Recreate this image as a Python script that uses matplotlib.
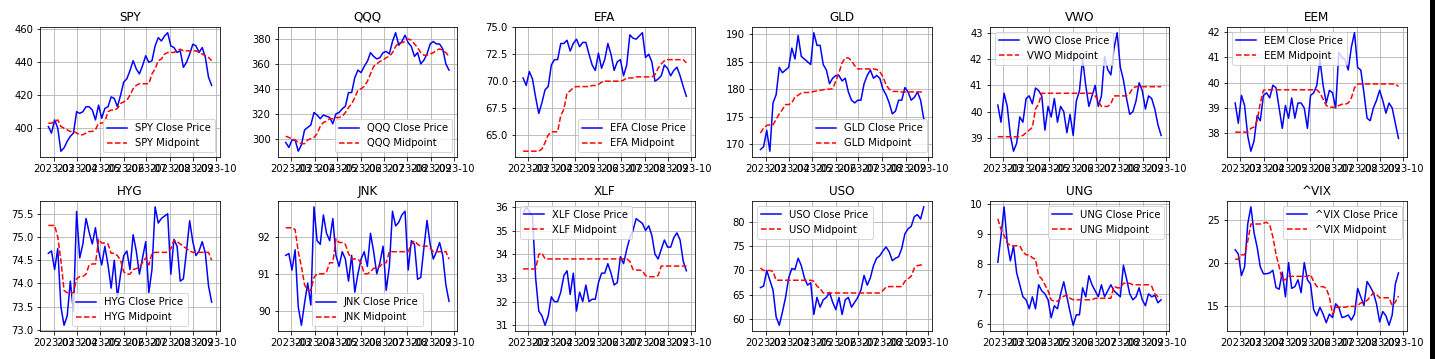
import matplotlib
matplotlib.use('Agg')
import matplotlib.pyplot as plt
from matplotlib.patches import Rectangle
import pandas as pd

# sample dates (roughly every 4 calendar days)
dates = pd.date_range('2023-02-22', '2023-09-25', periods=53)

tickers = ['SPY', 'QQQ', 'EFA', 'GLD', 'VWO', 'EEM',
           'HYG', 'JNK', 'XLF', 'USO', 'UNG', '^VIX']

spy_close = [401, 397, 405, 400, 386, 388, 392, 395, 397, 410, 409, 410, 413, 413, 411, 405, 414, 406,
             412, 413, 419, 418, 413, 420, 428, 430, 435, 441, 436, 433, 438, 444, 440, 441, 450, 455,
             453, 456, 458, 450, 449, 446, 447, 437, 440, 445, 451, 450, 446, 449, 443, 431, 426]
spy_mid = [403, 403, 404, 405, 401, 400, 399, 398, 398, 397, 396, 396, 397, 398, 398, 399, 403, 403,
           404, 410, 411, 411, 412, 415, 416, 417, 420, 424, 426, 427, 427, 427, 427, 433, 436, 441,
           442, 445, 446, 446, 446, 447, 448, 447, 447, 447, 447, 447, 446, 445, 444, 443, 441]

qqq_close = [297, 293, 299, 299, 290, 295, 307, 309, 311, 321, 319, 316, 319, 318, 317, 312, 320, 321,
             324, 326, 337, 337, 349, 355, 353, 358, 362, 369, 366, 364, 365, 369, 370, 368, 378, 385,
             375, 378, 383, 377, 374, 366, 369, 360, 363, 368, 376, 378, 376, 376, 372, 360, 355]
qqq_mid = [302, 301, 300, 299, 297, 296, 296, 299, 300, 301, 304, 310, 313, 314, 316, 316, 317, 317,
           318, 321, 325, 328, 333, 339, 340, 342, 346, 352, 358, 360, 362, 363, 365, 366, 369, 374,
           377, 377, 378, 380, 379, 376, 373, 369, 367, 367, 368, 369, 371, 372, 371, 369, 366]

efa_close = [70.3, 69.6, 70.9, 70.2, 68.5, 67.0, 68.0, 69.2, 69.5, 71.5, 72.0, 72.0, 73.5, 73.5, 73.8,
             72.8, 73.5, 73.9, 73.2, 73.6, 73.6, 72.5, 71.5, 71.0, 72.6, 71.2, 72.0, 73.5, 72.5, 71.0,
             71.8, 72.0, 70.5, 71.5, 74.3, 74.0, 73.9, 74.2, 74.5, 72.2, 72.5, 71.8, 70.0, 70.2, 70.5,
             71.5, 71.2, 70.5, 71.0, 71.3, 70.5, 69.5, 68.6]
efa_mid = [63.5, 63.5, 63.5, 63.5, 63.5, 63.5, 63.7, 64.3, 65.0, 65.3, 65.3, 65.3, 66.8, 67.4, 68.9,
           69.1, 69.4, 69.5, 69.5, 69.5, 69.5, 69.5, 69.6, 69.6, 69.7, 69.9, 70.0, 70.0, 70.0, 70.0,
           70.0, 70.0, 70.1, 70.3, 70.3, 70.3, 70.4, 70.4, 70.4, 70.4, 70.4, 70.4, 70.6, 71.2, 71.6,
           71.9, 72.0, 72.0, 72.0, 72.0, 72.0, 72.0, 71.7]

gld_close = [169.0, 169.5, 172.5, 168.7, 177.5, 179.0, 184.0, 183.0, 183.5, 184.0, 187.5, 185.5, 189.8,
             186.0, 185.5, 185.0, 184.5, 190.3, 188.0, 188.0, 184.5, 183.5, 181.0, 182.0, 182.5, 182.5,
             181.5, 182.0, 179.5, 178.0, 177.5, 178.0, 178.0, 181.0, 182.5, 183.5, 182.0, 182.5, 182.0,
             180.0, 179.0, 177.5, 175.5, 176.0, 178.0, 178.0, 180.3, 179.5, 178.0, 178.5, 179.5, 178.0,
             174.6]
gld_mid = [172.0, 172.9, 173.4, 173.5, 173.5, 174.5, 175.5, 176.3, 177.2, 177.2, 177.5, 178.6, 178.9,
           179.3, 179.4, 179.4, 179.4, 179.6, 179.7, 179.8, 179.9, 180.0, 180.0, 180.1, 181.5, 183.0,
           184.8, 185.7, 185.7, 185.2, 184.3, 183.7, 183.7, 183.7, 183.7, 183.7, 183.7, 183.6, 183.2,
           182.3, 180.8, 180.0, 179.6, 179.6, 179.6, 179.5, 179.5, 179.5, 179.5, 179.5, 179.5, 179.5,
           179.5]

vwo_close = [40.25, 39.6, 40.7, 40.2, 39.1, 38.5, 38.8, 39.8, 39.6, 40.5, 40.6, 40.3, 40.9, 40.8, 40.6,
             39.3, 40.2, 39.8, 40.5, 39.6, 40.2, 40.0, 39.2, 39.9, 39.1, 40.4, 40.8, 42.0, 41.0, 40.2,
             40.6, 41.0, 40.2, 40.6, 42.1, 41.6, 41.4, 42.4, 43.0, 41.7, 41.2, 40.5, 39.9, 40.0, 40.4,
             41.1, 40.8, 40.1, 40.6, 40.5, 40.1, 39.5, 39.1]
vwo_mid = [39.05, 39.05, 39.05, 39.05, 39.05, 39.05, 39.05, 39.05, 39.1, 39.2, 39.3, 39.4, 40.1, 40.3,
           40.7, 40.7, 40.7, 40.7, 40.7, 40.7, 40.7, 40.7, 40.7, 40.7, 40.7, 40.7, 40.7, 40.7, 40.7,
           40.7, 40.7, 40.6, 40.4, 40.2, 40.2, 40.2, 40.3, 40.6, 40.6, 40.6, 40.6, 40.6, 40.7, 40.9,
           40.95, 40.95, 40.95, 40.95, 40.95, 40.95, 40.95, 40.95, 40.95]

eem_close = [39.2, 38.4, 39.5, 39.1, 37.9, 37.3, 37.7, 38.7, 38.5, 39.5, 39.6, 39.4, 39.9, 39.8, 39.0,
             38.2, 39.1, 38.6, 39.4, 38.6, 39.2, 39.2, 39.0, 38.2, 39.5, 39.6, 39.9, 40.9, 39.9, 39.2,
             39.7, 39.6, 39.0, 41.2, 41.0, 40.9, 40.5, 41.4, 41.97, 40.6, 40.5, 39.6, 38.6, 38.5, 39.0,
             39.3, 39.7, 39.3, 38.8, 39.2, 39.0, 38.4, 37.8]
eem_mid = [38.05, 38.05, 38.05, 38.05, 38.05, 38.2, 38.25, 38.5, 39.2, 39.7, 39.72, 39.72, 39.72, 39.72,
           39.72, 39.72, 39.72, 39.72, 39.72, 39.72, 39.72, 39.72, 39.72, 39.72, 39.72, 39.72, 39.72,
           39.6, 39.35, 39.1, 39.05, 39.03, 39.03, 39.1, 39.15, 39.15, 39.2, 39.4, 39.8, 39.95, 39.95,
           39.95, 39.95, 39.95, 39.95, 39.95, 39.95, 39.95, 39.95, 39.95, 39.95, 39.95, 39.85]

hyg_close = [74.65, 74.7, 74.3, 74.75, 73.5, 73.1, 73.3, 74.05, 73.4, 75.55, 74.55, 74.85, 75.4, 75.1,
             74.85, 75.2, 74.7, 74.4, 74.8, 74.4, 73.9, 74.5, 73.7, 74.2, 74.6, 74.7, 74.3, 75.05, 74.7,
             74.2, 74.55, 74.9, 73.8, 74.3, 75.65, 75.3, 75.4, 75.45, 75.5, 74.2, 74.95, 74.8, 74.05,
             74.1, 74.7, 75.35, 74.9, 74.6, 74.7, 74.9, 74.65, 73.95, 73.6]
hyg_mid = [75.25, 75.25, 75.25, 75.0, 74.5, 73.85, 73.8, 73.8, 73.8, 74.1, 74.15, 74.15, 74.2, 74.4,
           74.42, 74.42, 74.95, 74.87, 74.87, 74.85, 74.65, 74.65, 74.6, 74.5, 74.25, 74.2, 74.2, 74.3,
           74.32, 74.35, 74.45, 74.55, 74.4, 74.65, 74.67, 74.67, 74.67, 74.67, 74.67, 74.75, 74.93,
           74.9, 74.85, 74.8, 74.75, 74.7, 74.67, 74.67, 74.67, 74.67, 74.67, 74.67, 74.5]

jnk_close = [91.5, 91.55, 91.1, 91.65, 90.1, 89.6, 90.2, 90.75, 90.15, 92.82, 91.9, 91.8, 92.6, 92.1,
             91.9, 92.5, 91.5, 91.2, 91.6, 91.4, 90.8, 91.5, 90.5, 91.0, 91.4, 91.6, 91.2, 92.1, 91.6,
             91.0, 91.3, 91.75, 90.55, 91.2, 92.7, 92.3, 92.4, 92.6, 92.7, 91.1, 91.9, 91.8, 90.85, 90.9,
             91.7, 92.45, 91.8, 91.4, 91.6, 91.85, 91.5, 90.7, 90.25]
jnk_mid = [92.25, 92.25, 92.25, 92.2, 91.6, 91.2, 90.7, 90.55, 90.55, 90.9, 91.0, 91.0, 91.0, 91.05,
           91.3, 91.3, 91.95, 91.85, 91.85, 91.8, 91.55, 91.4, 91.4, 91.4, 91.3, 91.0, 91.0, 91.05,
           91.15, 91.15, 91.2, 91.3, 91.3, 91.6, 91.6, 91.6, 91.6, 91.6, 91.6, 91.6, 91.8, 91.9, 91.8,
           91.75, 91.75, 91.75, 91.7, 91.6, 91.6, 91.6, 91.6, 91.6, 91.4]

xlf_close = [35.7, 36.0, 35.8, 35.6, 33.0, 31.6, 31.4, 31.0, 31.4, 32.2, 32.0, 32.0, 32.4, 33.1, 33.3,
             32.3, 33.2, 31.6, 32.4, 32.0, 32.7, 32.0, 32.1, 32.1, 32.8, 33.2, 33.2, 33.6, 33.2, 32.7,
             32.8, 33.9, 33.6, 34.2, 34.7, 35.0, 35.5, 35.4, 35.3, 35.0, 35.2, 34.8, 34.0, 33.8, 34.2,
             34.6, 34.3, 34.3, 34.7, 34.9, 34.6, 33.7, 33.3]
xlf_mid = [33.38, 33.38, 33.38, 33.38, 33.38, 34.0, 34.05, 33.8, 33.8, 33.8, 33.8, 33.8, 33.8, 33.8,
           33.8, 33.8, 33.8, 33.8, 33.8, 33.8, 33.8, 33.8, 33.8, 33.8, 33.8, 33.8, 33.8, 33.8, 33.8,
           33.8, 33.8, 33.8, 33.8, 33.8, 33.7, 33.35, 33.33, 33.33, 33.3, 33.1, 33.05, 33.05, 33.05,
           33.1, 33.5, 33.5, 33.5, 33.5, 33.5, 33.5, 33.5, 33.5, 33.5]

uso_close = [66.5, 66.8, 70.0, 68.0, 66.0, 60.5, 58.8, 61.5, 64.5, 68.5, 70.4, 70.2, 72.5, 71.0, 68.5,
             67.0, 67.5, 61.0, 64.5, 62.5, 64.0, 64.5, 65.5, 63.5, 62.0, 64.5, 61.0, 64.0, 64.5, 62.5,
             63.5, 64.5, 66.0, 69.0, 67.0, 68.5, 71.0, 72.5, 73.0, 74.0, 74.8, 73.8, 72.0, 72.5, 72.8,
             74.5, 77.5, 78.5, 79.0, 81.0, 81.4, 80.5, 83.0]
uso_mid = [70.5, 70.0, 70.0, 70.0, 69.8, 68.0, 68.0, 68.0, 68.0, 68.0, 68.0, 68.0, 68.0, 68.0, 68.0,
           68.0, 68.0, 67.8, 66.8, 66.3, 65.4, 65.4, 65.4, 65.4, 65.4, 65.4, 65.4, 65.4, 65.4, 65.4,
           65.4, 65.4, 65.4, 65.4, 65.4, 65.4, 65.4, 65.4, 65.4, 65.9, 66.6, 66.7, 66.7, 66.7, 66.7,
           66.7, 67.8, 68.3, 68.8, 70.5, 71.0, 71.1, 71.3]

ung_close = [8.05, 8.9, 9.9, 8.7, 8.1, 8.6, 7.7, 7.3, 6.9, 6.8, 6.5, 6.9, 6.5, 7.3, 7.1, 7.0, 6.8, 6.2,
             6.6, 6.5, 7.0, 7.4, 6.9, 6.4, 5.95, 6.3, 6.3, 7.2, 6.9, 7.6, 7.3, 7.1, 6.9, 7.3, 6.9, 7.1,
             7.3, 7.1, 7.0, 6.9, 7.95, 7.5, 7.0, 6.8, 6.9, 7.2, 6.8, 6.6, 7.0, 6.9, 6.95, 6.7, 6.8]
ung_mid = [9.5, 9.15, 8.95, 8.7, 8.6, 8.6, 8.6, 8.6, 8.4, 8.3, 8.3, 8.2, 8.15, 7.6, 7.5, 7.3, 7.1, 6.8,
           6.75, 6.75, 6.85, 6.92, 6.95, 6.85, 6.8, 6.8, 6.8, 6.8, 6.8, 6.8, 6.8, 6.85, 6.85, 6.85,
           6.85, 6.85, 6.85, 7.25, 7.2, 7.2, 7.35, 7.35, 7.35, 7.3, 7.3, 7.3, 7.3, 7.3, 7.3, 7.25, 7.0,
           6.9, 6.9]

vix_close = [21.5, 21.0, 18.5, 19.5, 24.5, 26.5, 23.5, 21.8, 19.5, 18.7, 18.7, 18.8, 19.1, 17.1, 16.9,
             18.9, 16.0, 20.0, 17.0, 17.2, 18.0, 16.5, 20.0, 18.0, 17.5, 14.5, 13.8, 14.8, 14.0, 13.0,
             14.0, 13.6, 15.2, 14.8, 13.6, 13.7, 13.9, 13.3, 14.0, 17.0, 16.0, 15.0, 17.8, 17.2, 16.5,
             15.2, 13.1, 14.3, 13.8, 12.7, 13.9, 17.5, 18.8]
vix_mid = [20.4, 20.4, 20.9, 20.9, 22.5, 24.5, 24.5, 24.5, 24.5, 24.6, 24.7, 24.4, 23.0, 21.0, 19.5,
           18.0, 18.0, 18.4, 18.4, 18.4, 18.4, 18.4, 18.4, 18.4, 18.6, 17.8, 17.2, 17.2, 17.2, 17.0,
           16.0, 14.0, 14.8, 14.8, 14.8, 14.8, 14.9, 14.9, 14.9, 15.0, 15.3, 15.4, 15.6, 16.0, 16.5,
           16.3, 15.9, 15.9, 15.9, 15.9, 15.0, 15.4, 16.1]

closes = [spy_close, qqq_close, efa_close, gld_close, vwo_close, eem_close,
          hyg_close, jnk_close, xlf_close, uso_close, ung_close, vix_close]
mids = [spy_mid, qqq_mid, efa_mid, gld_mid, vwo_mid, eem_mid,
        hyg_mid, jnk_mid, xlf_mid, uso_mid, ung_mid, vix_mid]
legend_locs = ['lower right', 'lower right', 'lower right', 'lower right', 'upper left', 'upper left',
               'lower center', 'lower center', 'upper left', 'upper left', 'upper right', 'upper right']

fig, axes = plt.subplots(2, 6, figsize=(1435 / 72, 359 / 72), dpi=72)

for ax, name, close, mid, loc in zip(axes.flat, tickers, closes, mids, legend_locs):
    ax.plot(dates, close, color='blue', label=f'{name} Close Price')
    ax.plot(dates, mid, 'r--', label=f'{name} Midpoint')
    ax.set_title(name)
    ax.grid(True)
    ax.legend(loc=loc)

plt.tight_layout()
# dark strip at the right edge, as in the screenshot
fig.add_artist(Rectangle((1430 / 1435, 0), 5 / 1435, 1, transform=fig.transFigure,
                         facecolor='black', edgecolor='none', zorder=10))
plt.savefig('out.png', dpi=72)
